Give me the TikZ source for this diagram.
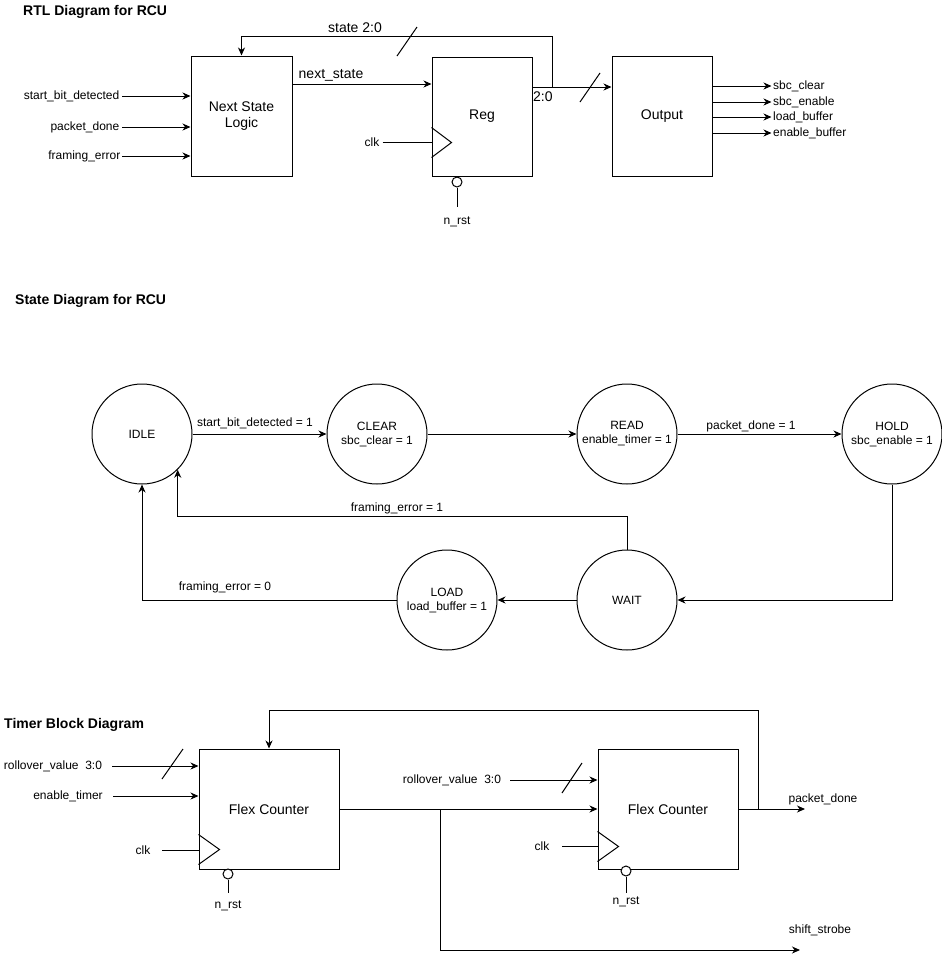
\documentclass[tikz,border=0pt]{standalone}
\usepackage{fontspec}
\setmainfont{Liberation Sans}
\usetikzlibrary{arrows.meta}
\begin{document}
\begin{tikzpicture}[x=1pt,y=-1pt,
  wire/.style={line width=1pt,line join=miter},
  arr/.style={wire,-{Stealth[length=8pt,width=7pt,inset=2.5pt]}},
  blk/.style={draw,line width=1pt,inner sep=0pt,align=center,font=\fontsize{14}{16}\selectfont},
  st/.style={draw,circle,line width=1pt,minimum size=100pt,inner sep=0pt,align=center,font=\fontsize{12}{14}\selectfont},
  lbl/.style={inner sep=1.5pt,font=\fontsize{12}{14}\selectfont},
  biglbl/.style={lbl,font=\fontsize{14}{16}\selectfont},
  ttl/.style={inner sep=0pt,anchor=west,font=\fontsize{14}{16}\selectfont\bfseries},
  bub/.style={draw,circle,line width=1pt,minimum size=10pt,inner sep=0pt,fill=white}]
\useasboundingbox (0,0) rectangle (942,959);

% ---------------- RTL diagram ----------------
\node[ttl] (t1) at (23,12) {RTL Diagram for RCU};
\node[blk,minimum width=101pt,minimum height=120pt] (nsl) at (241.5,116) {Next State\\Logic};
\node[blk,minimum width=100pt,minimum height=119pt] (reg) at (482,116.5) {Reg};
\node[blk,minimum width=100pt,minimum height=120pt] (out) at (662,116) {Output};

\node[lbl,anchor=east] (sbd) at (121,96) {start\_bit\_detected};
\node[lbl,anchor=east] (pd)  at (121,127) {packet\_done};
\node[lbl,anchor=east] (fe)  at (122,156) {framing\_error};
\draw[arr] ([xshift=1pt]sbd.east) -- (sbd -| nsl.west);
\draw[arr] ([xshift=1pt]pd.east) -- (pd -| nsl.west);
\draw[arr] (fe.east) -- (fe -| nsl.west);

\coordinate (ns0) at ([yshift=32pt]nsl.east);
\draw[arr] (ns0) -- (ns0 -| reg.west);
\node[biglbl] (nslbl) at (331,75) {next\_state};

\coordinate (q) at ([yshift=29.5pt]reg.east);
\draw[arr] (q) -- (q -| out.west);
\coordinate (tap) at (552,87);
\coordinate (fbtop) at (552,36);
\draw[arr] (tap) -- (fbtop) -| (nsl.north);
\draw[wire] (397,56) -- (417,27);
\draw[wire] (580,102) -- (600,73);
\node[biglbl] (stlbl) at (355,28) {state 2:0};
\node[biglbl,anchor=west] (q20) at (531.5,97) {2:0};

% clock and reset of the register
\draw[wire] ([yshift=49pt]reg.south west) -- ++(20,15) -- ++(-20,15);
\node[lbl] (clk0) at (372,142) {clk};
\draw[wire] ([xshift=1.5pt]clk0.east) -- (clk0 -| reg.west);
\node[bub] (b0) at (457,182) {};
\coordinate (r0) at (457,207);
\draw[wire] (b0.south) -- (r0);
\node[lbl] (rst0) at (457,222) {n\_rst};

% outputs
\node[lbl,anchor=west] (o1) at (771.5,86) {sbc\_clear};
\node[lbl,anchor=west] (o2) at (771.5,102) {sbc\_enable};
\node[lbl,anchor=west] (o3) at (771.5,117) {load\_buffer};
\node[lbl,anchor=west] (o4) at (771.5,133) {enable\_buffer};
\foreach \o in {o1,o2,o3,o4}
  \draw[arr] (out.east |- \o) -- (\o.west);

% ---------------- State diagram ----------------
\node[ttl] (t2) at (15,301) {State Diagram for RCU};
\node[st] (idle)  at (142,434) {IDLE};
\node[st] (clear) at (377,434) {CLEAR\\sbc\_clear = 1};
\node[st] (read)  at (627,434) {READ\\enable\_timer = 1};
\node[st] (hold)  at (892,434) {HOLD\\sbc\_enable = 1};
\node[st] (wait)  at (627,600) {WAIT};
\node[st] (load)  at (447,600) {LOAD\\load\_buffer = 1};

\draw[arr] (idle) -- (clear);
\node[lbl] (e1) at (255,423) {start\_bit\_detected = 1};
\draw[arr] (clear) -- (read);
\draw[arr] (read) -- (hold);
\node[lbl] (e2) at (751,426) {packet\_done = 1};
\draw[arr] (hold.south) |- (wait.east);
\draw[arr] (wait) -- (load);
\draw[arr] (load.west) -| (idle.south);
\node[lbl] (e3) at (225,587) {framing\_error = 0};
\coordinate (ie) at (idle.-45.573);
\draw[arr] (wait.north) -- ++(0,-33) -| (ie);
\node[lbl] (e4) at (397,508) {framing\_error = 1};

% ---------------- Timer block diagram ----------------
\node[ttl] (t3) at (4,725) {Timer Block Diagram};
\node[blk,minimum width=140pt,minimum height=120pt] (fc1) at (269,809) {Flex Counter};
\node[blk,minimum width=140pt,minimum height=120pt] (fc2) at (668,809) {Flex Counter};

\node[lbl] (roll1) at (53,766) {rollover\_value\ \ 3:0};
\coordinate (r1s) at (112,766);
\draw[arr] (r1s) -- (r1s -| fc1.west);
\draw[wire] (162,779) -- (183,749);
\node[lbl] (en1) at (68,796) {enable\_timer};
\coordinate (e1s) at (113,796);
\draw[arr] (e1s) -- (e1s -| fc1.west);
\node[lbl] (clk1) at (143,850) {clk};
\coordinate (c1s) at (162,850);
\draw[wire] (c1s) -- (c1s -| fc1.west);
\draw[wire] ([yshift=35pt]fc1.south west) -- ++(21,15) -- ++(-21,15);
\node[bub] (b1) at (228,874) {};
\coordinate (r1) at (228,893);
\draw[wire] (b1.south) -- (r1);
\node[lbl] (rst1) at (228,906) {n\_rst};

\draw[arr] (fc1.east) -- (fc1.east -| fc2.west);
\coordinate (br) at (440,809);
\node[lbl] (ss) at (820,930) {shift\_strobe};
\coordinate (sse) at (800,950);
\draw[arr] (br) |- (sse);

\node[lbl] (roll2) at (452,780) {rollover\_value\ \ 3:0};
\coordinate (r2s) at (510,780);
\draw[arr] (r2s) -- (r2s -| fc2.west);
\draw[wire] (562,793) -- (582,763);
\node[lbl] (clk2) at (542,846) {clk};
\coordinate (c2s) at (562,846);
\draw[wire] (c2s) -- (c2s -| fc2.west);
\draw[wire] ([yshift=38pt]fc2.south west) -- ++(21,15) -- ++(-21,15);
\node[bub] (b2) at (626,871) {};
\coordinate (r2) at (626,893);
\draw[wire] (b2.south) -- (r2);
\node[lbl] (rst2) at (626,902) {n\_rst};

\coordinate (pde) at (805,809);
\draw[arr] (fc2.east) -- (pde);
\node[lbl] (pdl) at (823,799) {packet\_done};
\coordinate (fbk) at (758,809);
\draw[arr] (fbk) -- ++(0,-99) -| (fc1.north);
\end{tikzpicture}
\end{document}
